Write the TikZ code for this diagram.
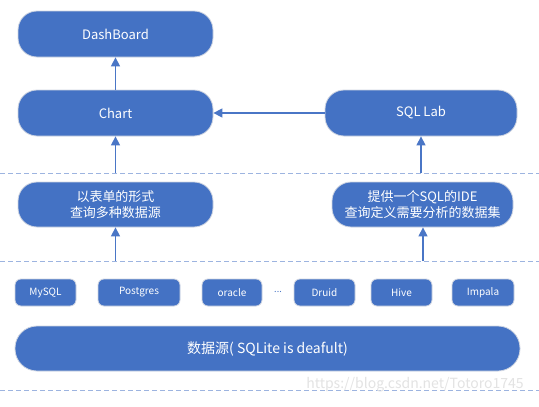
\documentclass[tikz,border=0pt]{standalone}
\usepackage{fontspec}
\setmainfont{Noto Sans CJK SC}
\usetikzlibrary{arrows.meta}
\definecolor{boxblue}{HTML}{4472C4}
\definecolor{linkblue}{HTML}{4A76C6}
\definecolor{dashblue}{HTML}{9DB4E0}
\definecolor{edgegray}{HTML}{D0D6E2}
\tikzset{
  box/.style={draw=edgegray, line width=0.8pt, fill=boxblue, text=white, align=center,
    inner sep=0pt, rounded corners=19pt, font=\fontsize{13}{15}\selectfont},
  smallbox/.style={box, rounded corners=6pt, font=\fontsize{10}{11}\selectfont},
  link/.style={draw=linkblue, line width=1.4pt, -{Triangle[width=9pt,length=9pt]}},
  sep/.style={draw=dashblue, line width=0.9pt, dash pattern=on 5pt off 3pt}
}
\begin{document}
\begin{tikzpicture}[x=1pt,y=-1pt]
\useasboundingbox[fill=white] (0,0) rectangle (539,407);
% separators
\draw[sep] (0,173) coordinate (s1l) -- (539,173) coordinate (s1r);
\draw[sep] (0,261) coordinate (s2l) -- (539,261) coordinate (s2r);
\draw[sep] (0,390) coordinate (s3l) -- (539,390) coordinate (s3r);
% top nodes
\node[box, minimum width=195pt, minimum height=46pt] (dash) at (115.5,34) {DashBoard};
\node[box, minimum width=195pt, minimum height=46pt] (chart) at (115.5,113) {Chart};
\node[box, minimum width=192pt, minimum height=46pt] (sqllab) at (421,113) {SQL Lab};
\node[box, minimum width=195pt, minimum height=45pt, font=\fontsize{13}{16}\selectfont] (form) at (115.5,204.5) {以表单的形式\\查询多种数据源};
\node[box, minimum width=181pt, minimum height=45pt, font=\fontsize{13}{16}\selectfont] (ide) at (422.5,204.5) {提供一个SQL的IDE\\查询定义需要分析的数据集};
% small data source boxes
\node[smallbox, minimum width=61pt, minimum height=27pt] (mysql) at (45.5,292.5) {MySQL};
\node[smallbox, minimum width=82pt, minimum height=27pt] (pg) at (139,292.5) {Postgres};
\node[smallbox, minimum width=60pt, minimum height=27pt] (oracle) at (232,292.5) {oracle};
\node[text=boxblue, font=\fontsize{9}{10}\selectfont, inner sep=0pt] (dots) at (278,292) {...};
\node[smallbox, minimum width=61pt, minimum height=27pt] (druid) at (324.5,292.5) {Druid};
\node[smallbox, minimum width=61pt, minimum height=27pt] (hive) at (401.5,292.5) {Hive};
\node[smallbox, minimum width=62pt, minimum height=27pt] (impala) at (483,292.5) {Impala};
% big source box
\node[box, rounded corners=22pt, minimum width=505pt, minimum height=45pt, font=\fontsize{14}{16}\selectfont] (src) at (267.5,348.5) {数据源( SQLite is deafult)};
% connectors
\coordinate (c1) at (115.5,173);
\coordinate (c2) at (115.5,261);
\coordinate (c3) at (421,173);
\coordinate (c4) at (423,261);
\draw[link] (chart.north) -- (dash.south);
\draw[link] (sqllab.west) -- (chart.east);
\draw[link] (c1) -- (chart.south);
\draw[link] (c2) -- (form.south);
\draw[link] (c3) -- (sqllab.south);
\draw[link] (c4) -- (ide.south -| c4);
% watermark
\node[text=gray!22, font=\fontsize{14}{16}\selectfont, inner sep=0pt] (wm) at (415,385) {https://blog.csdn.net/Totoro1745};
\end{tikzpicture}
\end{document}
